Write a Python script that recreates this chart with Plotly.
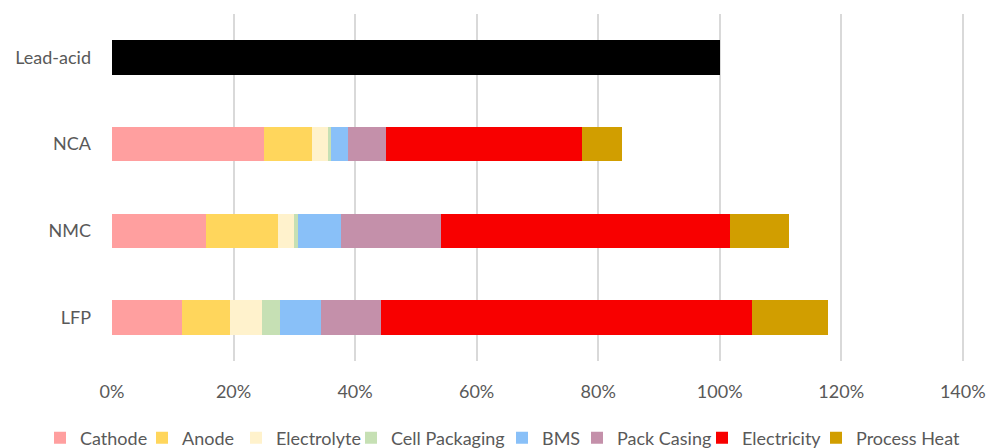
import plotly.graph_objects as go

categories = ["Lead-acid", "NCA", "NMC", "LFP"]

series_names = ["Cathode", "Anode", "Electrolyte", "Cell Packaging", "BMS",
                "Pack Casing", "Electricity", "Process Heat"]
colors = ["#FF9F9F", "#FFD65C", "#FFF2CC", "#C6E0B4", "#89C0F8",
          "#C490AA", "#F80000", "#D19E00"]

# values in %, per category (Lead-acid has none of these components)
cathode = [0, 25.0, 15.4, 11.5]
anode = [0, 7.9, 11.9, 7.9]
electrolyte = [0, 2.7, 2.7, 5.2]
cell_packaging = [0, 0.4, 0.6, 3.1]
bms = [0, 2.8, 7.0, 6.7]
pack_casing = [0, 6.3, 16.6, 9.8]
electricity = [0, 32.3, 47.5, 61.1]
process_heat = [0, 6.6, 9.7, 12.5]

lead_acid = [100, 0, 0, 0]

series_values = [cathode, anode, electrolyte, cell_packaging, bms,
                 pack_casing, electricity, process_heat]

tick_vals = [0, 20, 40, 60, 80, 100, 120, 140]
tick_text = ["0%", "20%", "40%", "60%", "80%", "100%", "120%", "140%"]

# left edge (px) of each legend entry, as in the reference layout
legend_left_px = [40, 142, 236, 351, 502, 577, 702, 816]

W, H = 987, 448
font_family = "Lato, 'Open Sans', sans-serif"
text_color = "#595959"

fig = go.Figure()
fig.add_trace(go.Bar(
    y=categories, x=lead_acid, orientation="h", name="Lead-acid",
    marker=dict(color="#000000", line=dict(width=0)), showlegend=False))

legend_layouts = {}
for i, (name, vals, col) in enumerate(zip(series_names, series_values, colors)):
    lg = "legend" if i == 0 else f"legend{i + 1}"
    fig.add_trace(go.Bar(
        y=categories, x=vals, orientation="h", name=name, legend=lg,
        marker=dict(color=col, line=dict(width=0))))
    legend_layouts[lg] = dict(
        orientation="h", xref="container", yref="container",
        x=legend_left_px[i] / W, xanchor="left",
        y=1 - 438 / H, yanchor="middle",
        font=dict(size=18, color=text_color, family=font_family),
        bgcolor="rgba(0,0,0,0)", borderwidth=0, itemwidth=30)

fig.update_layout(
    barmode="stack",
    bargap=0.6,
    width=W, height=H,
    margin=dict(l=112, r=23, t=14, b=87, autoexpand=False),
    paper_bgcolor="white", plot_bgcolor="white",
    font=dict(family=font_family, size=18, color=text_color),
    xaxis=dict(range=[0, 140.2], tickvals=tick_vals, ticktext=tick_text,
               showgrid=True, gridcolor="#D9D9D9", gridwidth=1.5,
               zeroline=False, showline=False, ticks="",
               ticklabelstandoff=18, fixedrange=True),
    yaxis=dict(categoryorder="array", categoryarray=categories,
               autorange="reversed", showgrid=False, zeroline=False,
               showline=False, ticks="", ticklabelstandoff=20),
    **legend_layouts,
)

fig.write_html("out.html")
